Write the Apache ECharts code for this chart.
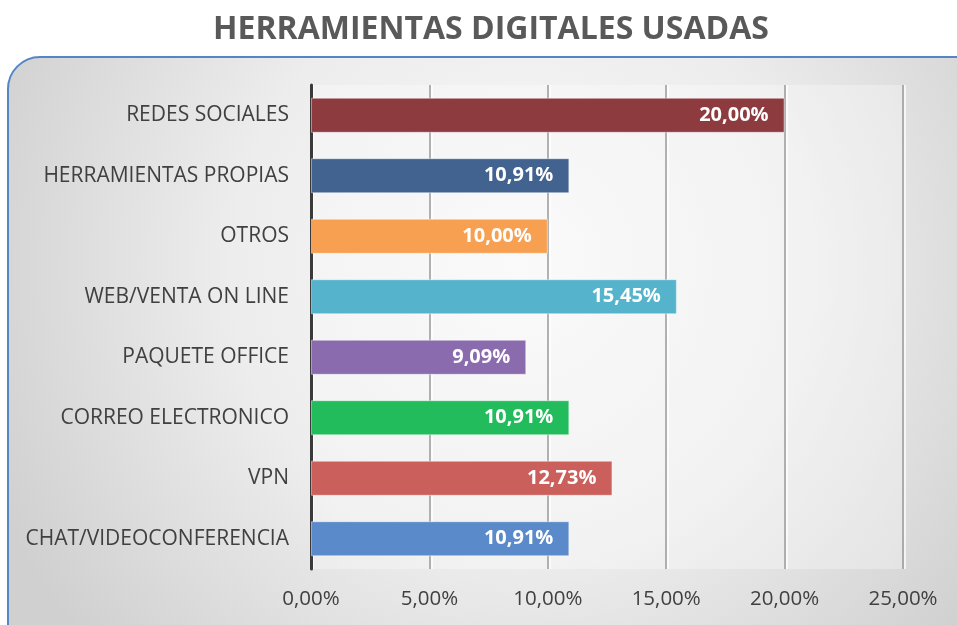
<!DOCTYPE html>
<html><head><meta charset="utf-8">
<script src="https://cdn.jsdelivr.net/npm/echarts@6/dist/echarts.min.js"></script>
<style>html,body{margin:0;padding:0;background:#fff}#c{width:957px;height:625px}</style>
</head><body><div id="c"></div>
<script>
const categories = ['REDES SOCIALES','HERRAMIENTAS PROPIAS','OTROS','WEB/VENTA ON LINE','PAQUETE OFFICE','CORREO ELECTRONICO','VPN','CHAT/VIDEOCONFERENCIA'];
const values = [20.00, 10.91, 10.00, 15.45, 9.09, 10.91, 12.73, 10.91];
const barColors = ['#8E3B40','#426390','#F7A052','#55B4CC','#8A6BAE','#22BC5C','#CA5F5B','#5B8ACA'];
const xTickLabels = ['0,00%','5,00%','10,00%','15,00%','20,00%','25,00%'];
const titleText = 'HERRAMIENTAS DIGITALES USADAS';

const FONT = 'Open Sans';
const chart = echarts.init(document.getElementById('c'));
chart.setOption({
  animation: false,
  backgroundColor: '#ffffff',
  graphic: [{
    type: 'rect', z: -10, silent: true,
    shape: {x: 8, y: 57, width: 980, height: 600, r: 32},
    style: {
      fill: {type: 'radial', x: 0.52, y: 0.35, r: 0.95,
        colorStops: [{offset: 0, color: '#f8f8f8'}, {offset: 0.5, color: '#ededed'}, {offset: 1, color: '#d0d0d0'}]},
      stroke: '#5486C6', lineWidth: 2
    }
  }],
  title: {
    text: titleText, left: 208, top: 9,
    textStyle: {fontFamily: FONT, fontWeight: 'bold', fontSize: 32, color: '#595959'}
  },
  grid: {left: 311, right: 54, top: 85, bottom: 56, show: true, backgroundColor: 'rgba(255,255,255,0.3)', borderWidth: 0},
  xAxis: {
    type: 'value', min: 0, max: 25, interval: 5,
    axisLine: {show: false}, axisTick: {show: false},
    splitLine: {show: true, lineStyle: {color: '#9a9a9a', width: 1.5, shadowColor: 'rgba(255,255,255,0.95)', shadowOffsetX: 2, shadowBlur: 0}},
    axisLabel: {
      margin: 20, fontFamily: FONT, fontSize: 20.5, color: '#404040',
      formatter: v => xTickLabels[Math.round(v / 5)]
    }
  },
  yAxis: {
    type: 'category', data: categories, inverse: true,
    axisLine: {show: true, lineStyle: {color: '#3a3a3a', width: 3}},
    axisTick: {show: false},
    axisLabel: {margin: 22, fontFamily: FONT, fontSize: 21, color: '#404040'}
  },
  series: [{
    type: 'bar', barCategoryGap: '42%',
    data: values.map((v, i) => ({value: v, itemStyle: {color: barColors[i]}})),
    itemStyle: {borderColor: 'rgba(255,255,255,0.45)', borderWidth: 1},
    label: {
      show: true, position: 'insideRight', distance: 16,
      fontFamily: FONT, fontWeight: 'bold', fontSize: 20, color: '#ffffff',
      formatter: p => p.value.toFixed(2).replace('.', ',') + '%'
    }
  }]
});
</script></body></html>
